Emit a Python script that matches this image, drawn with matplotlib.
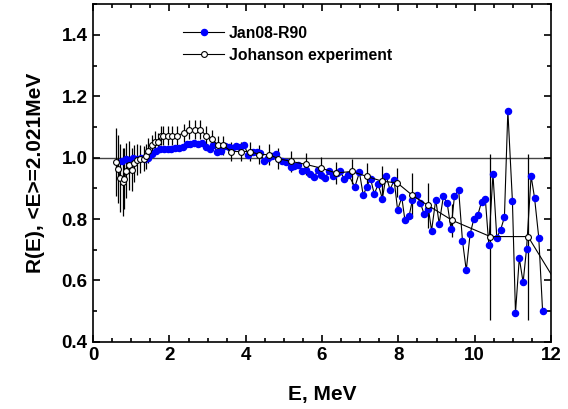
import matplotlib.pyplot as plt
import numpy as np
from matplotlib.ticker import MultipleLocator

plt.rcParams['font.family'] = ['Liberation Sans', 'DejaVu Sans']
plt.rcParams['font.weight'] = 'bold'

# Jan08-R90 (blue points)
e_jan = [0.75, 0.85, 0.95, 1.05, 1.15, 1.25, 1.35, 1.45, 1.55, 1.65,
         1.75, 1.85, 1.95, 2.05, 2.15, 2.25, 2.35, 2.45, 2.55, 2.65,
         2.75, 2.85, 2.95, 3.05, 3.15, 3.25, 3.35, 3.45, 3.55, 3.65,
         3.75, 3.85, 3.95, 4.07, 4.20, 4.30, 4.38, 4.48, 4.58, 4.68,
         4.79, 4.94, 5.06, 5.18, 5.27, 5.38, 5.48, 5.57, 5.69, 5.79,
         5.89, 5.97, 6.08, 6.18, 6.28, 6.38, 6.47, 6.58, 6.69, 6.86,
         6.98, 7.08, 7.17, 7.27, 7.37, 7.47, 7.58, 7.68, 7.78, 7.89,
         7.98, 8.09, 8.17, 8.28, 8.37, 8.48, 8.58, 8.67, 8.79, 8.87,
         8.98, 9.07, 9.18, 9.28, 9.38, 9.47, 9.58, 9.68, 9.78, 9.88,
         9.98, 10.08, 10.18, 10.28, 10.37, 10.48, 10.58, 10.68, 10.78, 10.87,
         10.99, 11.07, 11.17, 11.27, 11.36, 11.48, 11.57, 11.68, 11.78]
r_jan = [0.990, 0.995, 0.992, 1.000, 0.995, 0.998, 0.996, 0.999, 1.012, 1.022,
         1.028, 1.027, 1.029, 1.028, 1.030, 1.033, 1.034, 1.044, 1.046, 1.048,
         1.043, 1.047, 1.036, 1.029, 1.040, 1.019, 1.021, 1.037, 1.036, 1.033,
         1.037, 1.034, 1.040, 1.010, 1.019, 1.017, 1.015, 0.990, 1.000, 1.004,
         1.012, 0.990, 0.985, 0.970, 0.972, 0.977, 0.958, 0.961, 0.948, 0.936,
         0.959, 0.945, 0.934, 0.955, 0.939, 0.950, 0.955, 0.932, 0.945, 0.905,
         0.952, 0.877, 0.905, 0.932, 0.881, 0.914, 0.866, 0.941, 0.896, 0.926,
         0.830, 0.871, 0.798, 0.809, 0.863, 0.879, 0.852, 0.818, 0.833, 0.762,
         0.863, 0.785, 0.874, 0.852, 0.768, 0.874, 0.896, 0.730, 0.633, 0.751,
         0.801, 0.812, 0.856, 0.865, 0.717, 0.947, 0.740, 0.765, 0.806, 1.153,
         0.858, 0.494, 0.673, 0.594, 0.703, 0.940, 0.869, 0.740, 0.502]

# Johanson experiment (open circles with error bars)
e_joh = [0.60, 0.66, 0.71, 0.77, 0.82, 0.87, 0.95, 1.01, 1.07, 1.14,
         1.23, 1.32, 1.39, 1.45, 1.54, 1.62, 1.71, 1.78, 1.84, 1.95,
         2.06, 2.21, 2.37, 2.52, 2.67, 2.81, 2.96, 3.11, 3.26, 3.41,
         3.62, 3.87, 4.11, 4.36, 4.61, 4.85, 5.18, 5.58, 5.97, 6.37,
         6.78, 7.17, 7.58, 7.97, 8.37, 8.77, 9.41, 10.41, 11.40, 12.4]
r_joh = [0.986, 0.963, 0.934, 0.920, 0.932, 0.958, 0.975, 0.961, 0.981, 0.993,
         0.996, 0.997, 1.004, 1.023, 1.040, 1.051, 1.051, 1.072, 1.072, 1.072,
         1.072, 1.072, 1.080, 1.091, 1.091, 1.091, 1.072, 1.061, 1.042, 1.040,
         1.020, 1.020, 1.020, 1.010, 1.010, 0.997, 0.988, 0.978, 0.966, 0.950,
         0.955, 0.939, 0.923, 0.918, 0.877, 0.845, 0.796, 0.743, 0.743, 0.54]
err_joh = [0.11, 0.11, 0.11, 0.11, 0.10, 0.09, 0.08, 0.07, 0.06, 0.05,
           0.045, 0.04, 0.04, 0.04, 0.035, 0.035, 0.03, 0.03, 0.03, 0.03,
           0.03, 0.03, 0.03, 0.03, 0.03, 0.03, 0.03, 0.03, 0.03, 0.03,
           0.03, 0.03, 0.03, 0.03, 0.035, 0.035, 0.034, 0.036, 0.037, 0.035,
           0.04, 0.043, 0.05, 0.047, 0.073, 0.073, 0.054, 0.27, 0.27, 0.0]

fig = plt.figure(figsize=(5.68, 4.09), dpi=100)
ax = fig.add_axes([0.164, 0.164, 0.806, 0.826])

ax.axhline(1.0, color='#444444', lw=1.0, zorder=1)

ax.errorbar(e_joh, r_joh, yerr=err_joh, fmt='none', ecolor='black',
            elinewidth=0.9, capsize=0, zorder=2)
ax.plot(e_jan, r_jan, '-', color='black', lw=0.8, marker='o', ms=4.4,
        mfc='#0000ff', mec='#0000ff', label='Jan08-R90', zorder=3)
ax.plot(e_joh, r_joh, '-', color='black', lw=0.8, marker='o', ms=4.2,
        mfc='white', mec='black', mew=0.8, label='Johanson experiment', zorder=4)

ax.set_xlim(0, 12)
ax.set_ylim(0.4, 1.5)
ax.xaxis.set_major_locator(MultipleLocator(2))
ax.xaxis.set_minor_locator(MultipleLocator(0.5))
ax.yaxis.set_major_locator(MultipleLocator(0.2))
ax.yaxis.set_minor_locator(MultipleLocator(0.1))
ax.tick_params(which='both', direction='in', top=True, right=True, width=1.2)
ax.tick_params(which='major', length=5, labelsize=13.5, pad=4)
ax.tick_params(which='minor', length=3)
ax.set_yticks([0.4, 0.6, 0.8, 1.0, 1.2, 1.4])
ax.set_yticklabels(['0.4', '0.6', '0.8', '1.0', '1.2', '1.4'])
for s in ax.spines.values():
    s.set_linewidth(1.2)

ax.set_xlabel('E, MeV', fontsize=15, fontweight='bold', labelpad=15)
ax.set_ylabel('R(E), <E>=2.021MeV', fontsize=15, fontweight='bold', labelpad=12)

ax.legend(loc='upper left', bbox_to_anchor=(0.183, 0.955), frameon=False,
          fontsize=11.3, handlelength=2.6, handletextpad=0.3, labelspacing=0.45,
          borderaxespad=0)

fig.savefig('out.png', dpi=100)
